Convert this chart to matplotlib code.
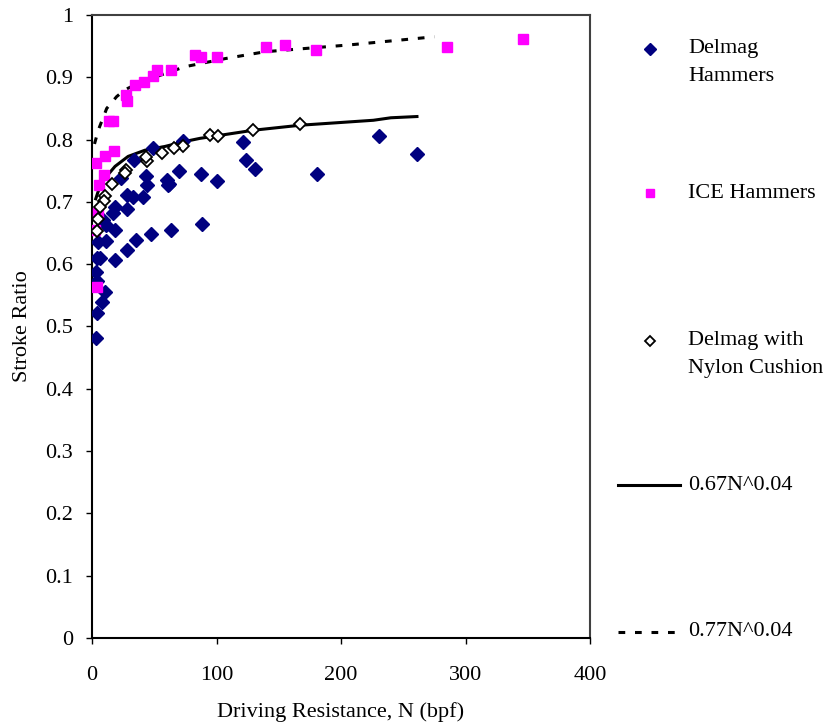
import matplotlib
matplotlib.use("Agg")
import matplotlib.pyplot as plt

plt.rcParams['font.family'] = ['Liberation Serif', 'DejaVu Serif']

# Delmag hammers (N, stroke ratio)
delmag_n = [3, 4.3, 7.8, 10.4, 3.8, 3, 4.3, 6.4, 18.5, 27.8, 35, 47, 63.7, 88.6,
            4.5, 11, 18.5, 11, 8.8, 27.8, 18.5, 17, 27.8, 33, 41, 44, 61,
            73, 49, 34, 23, 43, 60, 62, 70, 87.5, 100.6, 121, 124, 131,
            180.7, 230.8, 260.8]
delmag_y = [0.482, 0.522, 0.539, 0.556, 0.573, 0.588, 0.610, 0.610, 0.606, 0.623, 0.639, 0.648, 0.655, 0.665,
            0.635, 0.637, 0.655, 0.663, 0.671, 0.689, 0.692, 0.682, 0.711, 0.708, 0.708, 0.727, 0.727,
            0.798, 0.787, 0.767, 0.739, 0.741, 0.735, 0.729, 0.749, 0.745, 0.734, 0.796, 0.768, 0.753,
            0.744, 0.806, 0.777]

# ICE hammers
ice_n = [139.5, 155, 82.7, 87.3, 100, 63.5, 52.4, 48.7, 41.8, 34.5, 27.3, 28.4,
         13.7, 17.2, 3.2, 10.4, 17.9, 9.6, 5.9, 5, 2.4, 3.8, 180, 285, 346]
ice_y = [0.948, 0.952, 0.936, 0.933, 0.933, 0.912, 0.912, 0.902, 0.893, 0.888, 0.872, 0.862,
         0.830, 0.830, 0.762, 0.773, 0.781, 0.743, 0.727, 0.682, 0.655, 0.563, 0.943, 0.948, 0.961]

# Delmag with nylon cushion
nylon_n = [94.8, 101.5, 129.6, 167, 73.3, 66, 56.5, 44, 43, 27.3, 26.5, 15.8,
           10.4, 9.9, 6.4, 4.6, 4.3]
nylon_y = [0.807, 0.806, 0.815, 0.825, 0.789, 0.786, 0.779, 0.766, 0.772, 0.751, 0.746, 0.729,
           0.709, 0.702, 0.691, 0.672, 0.654]

# trend lines as drawn
fit1_n = [3, 5, 10.4, 18.5, 29, 42.6, 58.6, 74.7, 86.8, 100, 129.6, 167, 226, 240, 261]
fit1_y = [0.705, 0.717, 0.738, 0.757, 0.773, 0.783, 0.789, 0.797, 0.802, 0.806, 0.815, 0.823, 0.831, 0.835, 0.837]
fit2_n = [2, 5, 11.8, 19.8, 26.5, 40, 74.7, 107, 139, 207, 275]
fit2_y = [0.793, 0.815, 0.850, 0.869, 0.880, 0.893, 0.917, 0.930, 0.941, 0.952, 0.965]

labels = ['Delmag\nHammers', 'ICE Hammers', 'Delmag with\nNylon Cushion',
          '0.67N^0.04', '0.77N^0.04']

fs = 16

fig = plt.figure(figsize=(8.26, 7.27), dpi=100)
ax = fig.add_axes([0.1114, 0.1224, 0.6029, 0.857])

ax.plot(fit1_n, fit1_y, color='black', lw=2.2, zorder=2)
ax.plot(fit2_n, fit2_y, color='black', lw=2.2, ls=(0, (2.2, 3.2)), zorder=2)
ax.plot(delmag_n, delmag_y, 'D', color='#000080', ms=7, mec='#000080', ls='none', zorder=3)
ax.plot(ice_n, ice_y, 's', color='#FF00FF', ms=7, mec='#FF00FF', ls='none', zorder=4)
ax.plot(nylon_n, nylon_y, 'D', mfc='white', mec='black', mew=1.3, ms=6, ls='none', zorder=5)

ax.set_xlim(0, 400)
ax.set_ylim(0, 1)
ax.set_xticks([0, 100, 200, 300, 400])
ax.set_yticks([i / 10 for i in range(11)])
ax.set_yticklabels(['0', '0.1', '0.2', '0.3', '0.4', '0.5', '0.6', '0.7', '0.8', '0.9', '1'])
ax.tick_params(direction='out', length=4.5, width=1, labelsize=fs)
ax.tick_params(axis='y', pad=9)
ax.tick_params(axis='x', pad=16)
for s in ['left', 'bottom']:
    ax.spines[s].set_linewidth(1.5)
for s in ['top', 'right']:
    ax.spines[s].set_color('#404040')
    ax.spines[s].set_linewidth(1.5)
ax.set_xlabel('Driving Resistance, N (bpf)', fontsize=fs, labelpad=12)
ax.set_ylabel('Stroke Ratio', fontsize=fs, labelpad=10)

# legend drawn by hand, in pixel coordinates of the figure
lax = fig.add_axes([0, 0, 1, 1])
lax.set_xlim(0, 826)
lax.set_ylim(727, 0)
lax.axis('off')
ys = [49, 193, 341, 485, 632]
lax.plot([650], [ys[0]], 'D', color='#000080', ms=6)
lax.plot([650], [ys[1]], 's', color='#FF00FF', ms=6)
lax.plot([650], [ys[2]], 'D', mfc='white', mec='black', mew=1.3, ms=5.5)
lax.plot([618, 680], [ys[3], ys[3]], color='black', lw=2.2)
lax.plot([618, 680], [ys[4], ys[4]], color='black', lw=2.2, ls=(0, (2.2, 3.2)))
for i, lab in enumerate(labels):
    x = 688
    if '\n' in lab:
        lax.text(x, ys[i] - 10, lab, fontsize=fs, va='top', ha='left', linespacing=1.62)
    else:
        lax.text(x, ys[i], lab, fontsize=fs, va='center', ha='left')

fig.savefig('out.png', dpi=100)
